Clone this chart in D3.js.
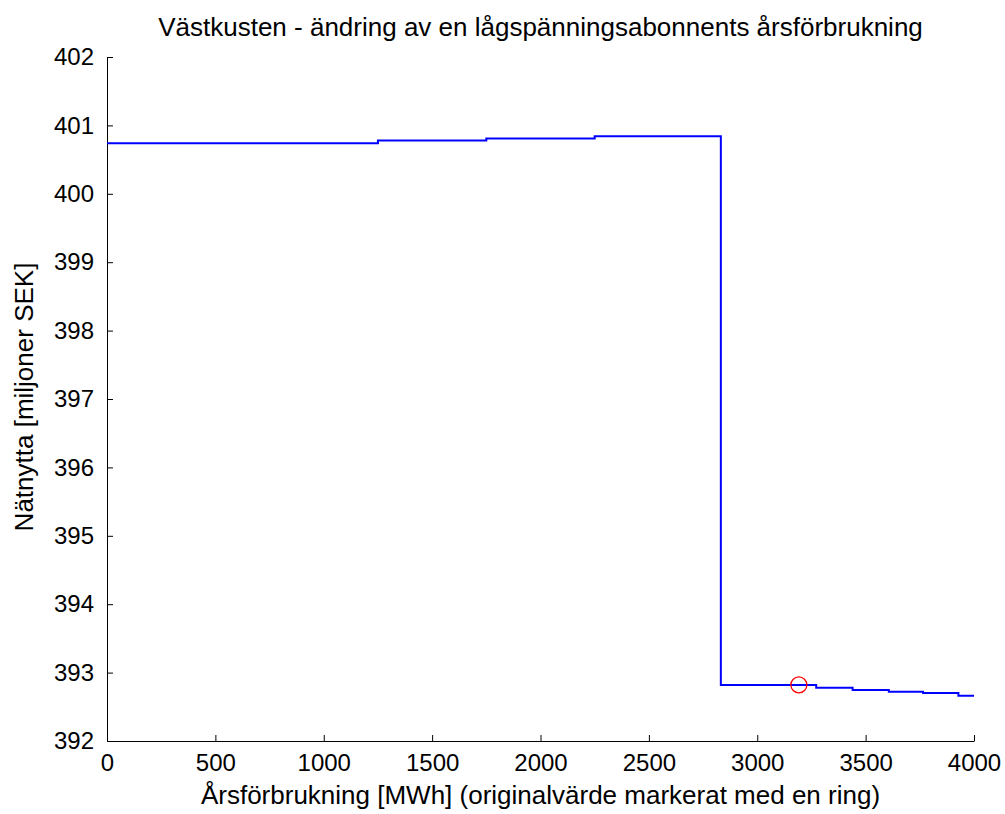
<!DOCTYPE html>
<html>
<head>
<meta charset="utf-8">
<script src="https://cdn.jsdelivr.net/npm/d3@7"></script>
<style>
  body { margin: 0; background: #fff; }
  svg text { font-family: "Liberation Sans", Arial, sans-serif; fill: #000; }
</style>
</head>
<body>
<div id="chart"></div>
<script>
// step breakpoints (MWh) and net benefit (miljoner SEK)
const stepX = [0, 1250, 1750, 2250, 2832, 3272, 3440, 3607, 3765, 3928, 4000];
const stepY = [400.74, 400.78, 400.81, 400.84, 392.82, 392.78, 392.745, 392.72, 392.70, 392.66, 392.66];
const origX = [3192];
const origY = [392.82];
const xTicks = [0, 500, 1000, 1500, 2000, 2500, 3000, 3500, 4000];
const yTicks = [392, 393, 394, 395, 396, 397, 398, 399, 400, 401, 402];

const W = 1005, H = 814;
const m = { left: 107, right: 31, top: 57, bottom: 73 };
const width = W - m.left - m.right;
const height = H - m.top - m.bottom;

const svg = d3.select('#chart').append('svg')
  .attr('width', W)
  .attr('height', H);

const g = svg.append('g')
  .attr('transform', `translate(${m.left}, ${m.top})`);

const x = d3.scaleLinear().domain([0, 4000]).range([0, width]);
const y = d3.scaleLinear().domain([392, 402]).range([height, 0]);

// axes, ticks pointing inward like matlab
const xAxis = g.append('g')
  .attr('transform', `translate(0, ${height})`)
  .call(d3.axisBottom(x).tickValues(xTicks).tickSizeInner(-6).tickSizeOuter(0).tickPadding(13).tickFormat(d3.format('d')));
const yAxis = g.append('g')
  .call(d3.axisLeft(y).tickValues(yTicks).tickSizeInner(-6).tickSizeOuter(0).tickPadding(13).tickFormat(d3.format('d')));

[xAxis, yAxis].forEach(a => {
  a.selectAll('text').style('font-size', '24px');
  a.select('.domain').attr('stroke', '#000');
  a.selectAll('.tick line').attr('stroke', '#000');
});

// the step line
const pts = stepX.map((d, i) => [d, stepY[i]]);
const line = d3.line()
  .x(d => x(d[0]))
  .y(d => y(d[1]))
  .curve(d3.curveStepAfter);

g.append('path')
  .datum(pts)
  .attr('fill', 'none')
  .attr('stroke', '#0000ff')
  .attr('stroke-width', 2)
  .attr('d', line);

// original value marked with a ring
g.selectAll('.orig')
  .data(origX)
  .enter()
  .append('circle')
  .attr('cx', d => x(d))
  .attr('cy', (d, i) => y(origY[i]))
  .attr('r', 8)
  .attr('fill', 'none')
  .attr('stroke', '#ff0000')
  .attr('stroke-width', 1.3);

// title and labels
svg.append('text')
  .attr('x', m.left + width / 2)
  .attr('y', 36)
  .attr('text-anchor', 'middle')
  .style('font-size', '26px')
  .text('Västkusten - ändring av en lågspänningsabonnents årsförbrukning');

svg.append('text')
  .attr('x', m.left + width / 2)
  .attr('y', 804)
  .attr('text-anchor', 'middle')
  .style('font-size', '26px')
  .text('Årsförbrukning [MWh] (originalvärde markerat med en ring)');

svg.append('text')
  .attr('transform', 'rotate(-90)')
  .attr('x', -(m.top + height / 2) + 2)
  .attr('y', 33)
  .attr('text-anchor', 'middle')
  .style('font-size', '26px')
  .text('Nätnytta [miljoner SEK]');
</script>
</body>
</html>
